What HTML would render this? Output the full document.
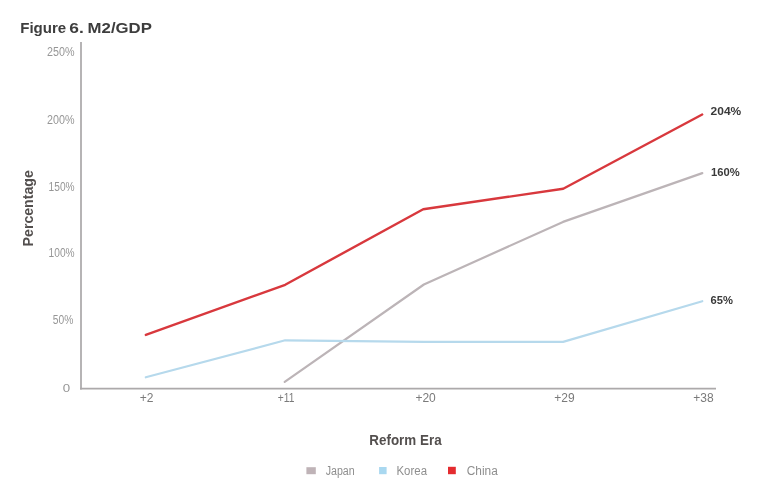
<!DOCTYPE html>
<html>
<head>
<meta charset="utf-8">
<style>
html,body{margin:0;padding:0;background:#fff;width:768px;height:486px;overflow:hidden}
svg{display:block;will-change:transform}
text{font-family:"Liberation Sans",Arial,sans-serif}
.tk{font-size:12px;fill:#969696}
.tx{font-size:12px;fill:#7a7a7a}
.dl{font-size:11.2px;font-weight:bold;fill:#3a3a3a}
.lg{font-size:12.5px;fill:#8e8e8e}
</style>
</head>
<body>
<svg width="768" height="486" viewBox="0 0 768 486">
<rect width="768" height="486" fill="#fff"/>
<text y="33.3" font-size="15" font-weight="bold" fill="#3d3d3d"><tspan x="20.2" textLength="46" lengthAdjust="spacingAndGlyphs">Figure</tspan> <tspan x="69.3" textLength="14.5" lengthAdjust="spacingAndGlyphs">6.</tspan> <tspan x="87.6" textLength="64.3" lengthAdjust="spacingAndGlyphs">M2/GDP</tspan></text>

<!-- y tick labels -->
<text class="tk" x="74.6" y="55.6" text-anchor="end" textLength="27.5" lengthAdjust="spacingAndGlyphs">250%</text>
<text class="tk" x="74.6" y="123.6" text-anchor="end" textLength="27.5" lengthAdjust="spacingAndGlyphs">200%</text>
<text class="tk" x="74.6" y="190.6" text-anchor="end" textLength="26" lengthAdjust="spacingAndGlyphs">150%</text>
<text class="tk" x="74.6" y="257.1" text-anchor="end" textLength="26" lengthAdjust="spacingAndGlyphs">100%</text>
<text class="tk" x="73.3" y="323.8" text-anchor="end" textLength="20.5" lengthAdjust="spacingAndGlyphs">50%</text>
<text class="tk" x="70.2" y="391.9" text-anchor="end" font-size="11.4" textLength="7.4" lengthAdjust="spacingAndGlyphs" style="font-size:11.4px">0</text>

<!-- axis title -->
<text x="0" y="0" transform="translate(32.9 246.4) rotate(-90)" font-size="14" font-weight="bold" fill="#534f4e" textLength="76.2" lengthAdjust="spacingAndGlyphs">Percentage</text>

<!-- axes -->
<line x1="81" y1="42" x2="81" y2="389.4" stroke="#b6b4b5" stroke-width="2"/>
<line x1="80" y1="388.6" x2="716" y2="388.6" stroke="#aca9aa" stroke-width="1.7"/>

<!-- x tick labels -->
<text class="tx" x="146.5" y="402.2" text-anchor="middle">+2</text>
<text class="tx" x="286.1" y="402.2" text-anchor="middle" textLength="16.6" lengthAdjust="spacingAndGlyphs">+11</text>
<text class="tx" x="425.6" y="402.2" text-anchor="middle">+20</text>
<text class="tx" x="564.5" y="402.2" text-anchor="middle">+29</text>
<text class="tx" x="703.4" y="402.2" text-anchor="middle">+38</text>

<!-- series -->
<polyline fill="none" stroke="#bcb4b7" stroke-width="2.2" stroke-linejoin="round" stroke-linecap="round" points="284.7,381.9 423.9,284.5 563.0,221.9 702.3,173.1"/>
<polyline fill="none" stroke="#b6d9ec" stroke-width="2.2" stroke-linejoin="round" stroke-linecap="round" points="145.8,377.3 285.2,340.3 423.9,341.9 563.1,341.9 702.3,301.2"/>
<polyline fill="none" stroke="#d8383d" stroke-width="2.4" stroke-linejoin="round" stroke-linecap="round" points="145.8,334.9 285.2,284.8 423.2,209.2 563.2,188.8 702.2,114.5"/>

<!-- data labels -->
<text class="dl" x="710.6" y="115.4" textLength="30.6" lengthAdjust="spacingAndGlyphs">204%</text>
<text class="dl" x="711.1" y="176.2">160%</text>
<text class="dl" x="710.5" y="303.8">65%</text>

<!-- x axis title -->
<text x="369.3" y="444.5" font-size="13.8" font-weight="bold" fill="#534f4e" textLength="72.3" lengthAdjust="spacingAndGlyphs">Reform Era</text>

<!-- legend -->
<rect x="306.4" y="467.2" width="9.4" height="7" fill="#bfb3b7"/>
<text class="lg" x="325.7" y="474.8" textLength="29" lengthAdjust="spacingAndGlyphs">Japan</text>
<rect x="379.1" y="467" width="7.5" height="7.2" fill="#a9d8f0"/>
<text class="lg" x="396.5" y="474.8" textLength="30.5" lengthAdjust="spacingAndGlyphs">Korea</text>
<rect x="448" y="466.8" width="7.8" height="7.4" fill="#e42b2f"/>
<text class="lg" x="466.8" y="474.8" textLength="31" lengthAdjust="spacingAndGlyphs">China</text>
</svg>
</body>
</html>
